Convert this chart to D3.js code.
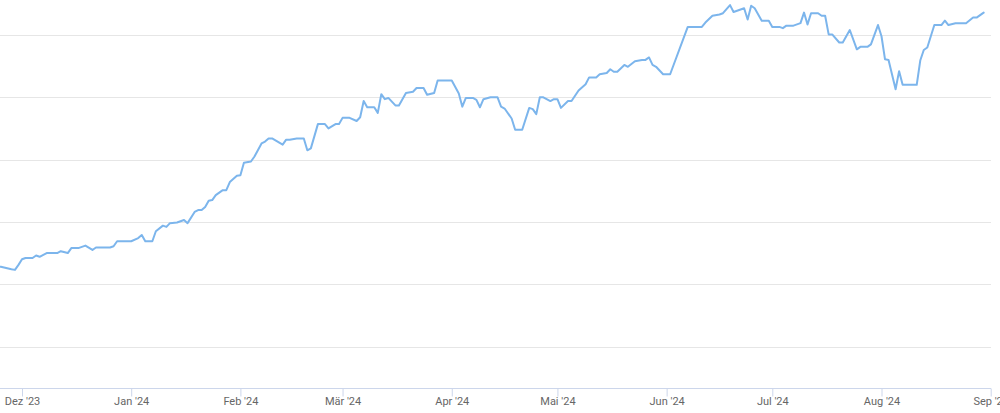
<!DOCTYPE html>
<html>
<head>
<meta charset="utf-8">
<script src="https://cdn.jsdelivr.net/npm/d3@7"></script>
<style>
  html, body { margin: 0; padding: 0; background: #fff; }
  svg { display: block; font-family: Roboto, "Noto Sans", sans-serif; }
</style>
</head>
<body>
<svg id="chart" width="1000" height="413"></svg>
<script>
// values (one point per vertex of the line)
var dates = [
	"2023-11-24","2023-11-25","2023-11-28","2023-11-29","2023-11-30","2023-12-01","2023-12-02","2023-12-04",
	"2023-12-05","2023-12-06","2023-12-08","2023-12-11","2023-12-12","2023-12-14","2023-12-15","2023-12-17",
	"2023-12-19","2023-12-21","2023-12-22","2023-12-26","2023-12-27","2023-12-28","2024-01-01","2024-01-03",
	"2024-01-04","2024-01-05","2024-01-07","2024-01-08","2024-01-10","2024-01-11","2024-01-12","2024-01-14",
	"2024-01-16","2024-01-17","2024-01-19","2024-01-20","2024-01-21","2024-01-22","2024-01-23","2024-01-24",
	"2024-01-25","2024-01-27","2024-01-28","2024-01-29","2024-01-31","2024-02-01","2024-02-02","2024-02-04",
	"2024-02-05","2024-02-07","2024-02-08","2024-02-09","2024-02-10","2024-02-13","2024-02-14","2024-02-15",
	"2024-02-17","2024-02-19","2024-02-20","2024-02-21","2024-02-23","2024-02-25","2024-02-26","2024-02-28",
	"2024-02-29","2024-03-01","2024-03-03","2024-03-05","2024-03-06","2024-03-07","2024-03-08","2024-03-10",
	"2024-03-11","2024-03-12","2024-03-13","2024-03-14","2024-03-16","2024-03-17","2024-03-19","2024-03-21",
	"2024-03-22","2024-03-24","2024-03-25","2024-03-27","2024-03-28","2024-04-01","2024-04-03","2024-04-04",
	"2024-04-05","2024-04-07","2024-04-08","2024-04-09","2024-04-10","2024-04-12","2024-04-14","2024-04-15",
	"2024-04-16","2024-04-18","2024-04-19","2024-04-21","2024-04-23","2024-04-24","2024-04-25","2024-04-26",
	"2024-04-27","2024-04-29","2024-04-30","2024-05-01","2024-05-02","2024-05-04","2024-05-05","2024-05-07",
	"2024-05-09","2024-05-10","2024-05-12","2024-05-13","2024-05-15","2024-05-16","2024-05-17","2024-05-18",
	"2024-05-20","2024-05-21","2024-05-23","2024-05-25","2024-05-26","2024-05-27","2024-05-28","2024-05-29",
	"2024-05-31","2024-06-02","2024-06-07","2024-06-11","2024-06-12","2024-06-14","2024-06-16","2024-06-17",
	"2024-06-19","2024-06-20","2024-06-23","2024-06-24","2024-06-25","2024-06-26","2024-06-28","2024-06-30",
	"2024-07-01","2024-07-03","2024-07-04","2024-07-05","2024-07-07","2024-07-09","2024-07-10","2024-07-11",
	"2024-07-12","2024-07-14","2024-07-15","2024-07-16","2024-07-17","2024-07-18","2024-07-20","2024-07-21",
	"2024-07-23","2024-07-25","2024-07-26","2024-07-28","2024-07-29","2024-07-31","2024-08-01","2024-08-02",
	"2024-08-03","2024-08-05","2024-08-06","2024-08-07","2024-08-11","2024-08-12","2024-08-13","2024-08-14",
	"2024-08-16","2024-08-18","2024-08-19","2024-08-20","2024-08-22","2024-08-25","2024-08-27","2024-08-28",
	"2024-08-30"
];

var values = [
	228,228,224,223,231,240,242,242,
	246,244,250,250,253,250,258,258,
	262,255,259,259,261,269,269,274,
	279,269,269,285,294,292,298,299,
	303,298,316,319,319,324,334,335,
	343,351,351,364,374,375,395,397,
	405,426,429,434,434,424,432,432,
	434,434,415,418,457,457,450,457,
	457,467,467,462,468,494,484,484,
	475,505,497,499,487,487,507,509,
	515,515,504,507,527,527,506,485,
	499,499,496,484,497,500,500,485,
	482,466,448,448,483,481,473,500,
	500,494,497,497,483,494,494,511,
	521,532,532,537,539,545,541,541,
	552,549,558,560,560,564,552,549,
	537,537,613,613,620,631,633,635,
	648,637,643,625,647,643,623,623,
	613,613,611,615,615,619,636,617,
	635,635,631,631,601,601,588,588,
	608,577,581,581,585,616,598,561,
	560,513,542,520,520,559,576,580,
	616,616,623,616,619,619,628,628,
	636
];

var gridValues = [100, 200, 300, 400, 500, 600];
var monthTicks = ["2023-12-01","2024-01-01","2024-02-01","2024-03-01","2024-04-01","2024-05-01",
	"2024-06-01","2024-07-01","2024-08-01","2024-09-01"];
var monthLabels = ["Dez '23","Jan '24","Feb '24","M\u00e4r '24","Apr '24","Mai '24",
	"Jun '24","Jul '24","Aug '24","Sep '24"];

function drawChart() {
	var svg = d3.select("#chart"),
	    plotRight = 991,
	    plotBottom = 388;

	var parse = d3.utcParse("%Y-%m-%d");
	var points = dates.map(function(d, i) { return {date: parse(d), value: values[i]}; });

	var x = d3.scaleUtc()
	    .domain([parse("2023-12-01"), parse("2024-09-01")])
	    .range([22, 990.7]);

	var y = d3.scaleLinear()
	    .domain([33.4, 656.2])
	    .range([plotBottom, 0]);

	svg.append("defs").append("clipPath")
	    .attr("id", "plotClip")
	  .append("rect")
	    .attr("x", 0).attr("y", -5)
	    .attr("width", plotRight).attr("height", plotBottom + 5);

	// horizontal grid
	svg.append("g")
	    .attr("class", "grid")
	    .selectAll("line")
	    .data(gridValues)
	    .enter().append("line")
	      .attr("x1", 0)
	      .attr("x2", plotRight)
	      .attr("y1", function(d) { return Math.round(y(d)) + 0.5; })
	      .attr("y2", function(d) { return Math.round(y(d)) + 0.5; })
	      .attr("stroke", "#e6e6e6")
	      .attr("stroke-width", 1);

	// x axis
	var tickDates = monthTicks.map(parse);
	var xAxis = d3.axisBottom(x)
	    .tickValues(tickDates)
	    .tickSize(8)
	    .tickPadding(1)
	    .tickFormat(function(d, i) { return monthLabels[i]; });

	var gx = svg.append("g")
	    .attr("class", "x-axis")
	    .attr("transform", "translate(0," + (plotBottom + 0.5) + ")")
	    .call(xAxis);

	gx.select(".domain")
	    .attr("d", "M0,0H" + plotRight)
	    .attr("stroke", "#ccd6eb");
	gx.selectAll(".tick line").attr("stroke", "#ccd6eb");
	gx.selectAll(".tick text")
	    .attr("fill", "#666666")
	    .attr("font-size", "11px")
	    .attr("font-family", "Roboto, sans-serif");

	// the series
	var line = d3.line()
	    .x(function(d) { return x(d.date); })
	    .y(function(d) { return y(d.value); });

	svg.append("path")
	    .datum(points)
	    .attr("clip-path", "url(#plotClip)")
	    .attr("fill", "none")
	    .attr("stroke", "#7cb5ec")
	    .attr("stroke-width", 2)
	    .attr("stroke-linejoin", "round")
	    .attr("stroke-linecap", "round")
	    .attr("d", line);
}

drawChart();
</script>
</body>
</html>
